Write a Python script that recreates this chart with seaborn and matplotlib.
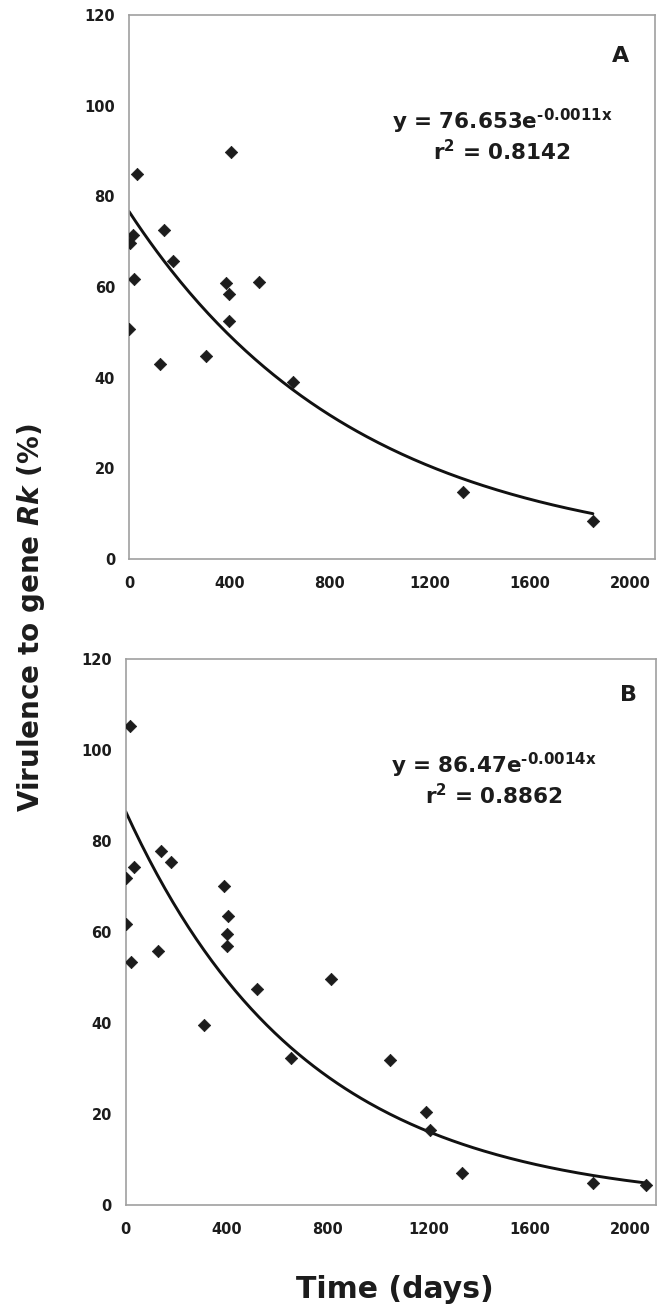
import numpy as np
import pandas as pd
import matplotlib.pyplot as plt
import seaborn as sns

# --- datos ---
# Panel A
days_a = [1, 3, 16, 18, 32, 125, 139, 177, 309, 387, 400, 399, 406, 520, 656, 1332, 1852]
vir_a = [50.7, 69.6, 71.5, 61.8, 84.9, 42.9, 72.6, 65.8, 44.7, 60.9, 58.5, 52.6, 89.8, 61.1, 39.1, 14.7, 8.4]
# Panel B
days_b = [16, 1, 32, 1, 20, 127, 140, 179, 310, 388, 407, 400, 400, 521, 656, 812,
          1047, 1190, 1206, 1331, 1852, 2061]
vir_b = [105.2, 71.9, 74.3, 61.7, 53.4, 55.9, 77.7, 75.4, 39.6, 70.0, 63.4, 59.5, 56.9, 47.5,
         32.2, 49.7, 31.8, 20.4, 16.5, 7.1, 4.9, 4.4]

# coeficientes de la tendencia exponencial (impresos en la figura)
coef_a, rate_a, r2_a = 76.653, -0.0011, 0.8142
coef_b, rate_b, r2_b = 86.47, -0.0014, 0.8862

x_ticks = [0, 400, 800, 1200, 1600, 2000]
y_ticks = [0, 20, 40, 60, 80, 100, 120]

sns.set_style("white")
plt.rcParams['font.family'] = ['DejaVu Sans']
plt.rcParams['font.weight'] = 'bold'
plt.rcParams['mathtext.fontset'] = 'custom'
plt.rcParams['mathtext.rm'] = 'DejaVu Sans:bold'
plt.rcParams['mathtext.bf'] = 'DejaVu Sans:bold'
plt.rcParams['mathtext.it'] = 'DejaVu Sans:italic:bold'
plt.rcParams['mathtext.default'] = 'bf'

ink = "#1c1c1c"

fig = plt.figure(figsize=(6.65, 13.14), dpi=100)
ax_a = fig.add_axes([0.194, 0.5746, 0.791, 0.414])
ax_b = fig.add_axes([0.189, 0.083, 0.797, 0.4155])


def panel(ax, days, vir, coef, rate, r2, letter, eq_x, let_x, let_y):
    df = pd.DataFrame({"days": days, "vir": vir})
    # curva de tendencia y = a*e^(b x)
    xs = np.linspace(0, max(days), 200)
    fit = pd.DataFrame({"days": xs, "vir": coef * np.exp(rate * xs)})
    sns.lineplot(data=fit, x="days", y="vir", ax=ax, color="#111111", linewidth=2.1)
    sns.scatterplot(data=df, x="days", y="vir", ax=ax, marker="D", s=40,
                    color=ink, edgecolor=ink, linewidth=0.5, zorder=3)
    ax.set_xlim(0, 2100)
    ax.set_ylim(0, 120)
    ax.set_xticks(x_ticks)
    ax.set_yticks(y_ticks)
    ax.set_xticklabels([str(t) for t in x_ticks], fontsize=10.5, fontweight='bold', color=ink)
    ax.set_yticklabels([str(t) for t in y_ticks], fontsize=10.5, fontweight='bold', color=ink)
    ax.set_xlabel("")
    ax.set_ylabel("")
    for s in ax.spines.values():
        s.set_color("#a0a0a0")
        s.set_linewidth(1.2)
    ax.tick_params(axis='both', direction='out', length=4, width=1, color="#a0a0a0", pad=6)
    ax.tick_params(axis='x', pad=8)
    # guion normal en el exponente, como en el original
    expo = ("%s" % rate).replace("-", "\u2010") + "x"
    ax.text(eq_x, 96.6, "y = %se$^{%s}$" % (coef, expo), ha="center", va="center",
            fontsize=15.5, fontweight='bold', color=ink)
    ax.text(eq_x, 89.9, "r$^{2}$ = %.4f" % r2, ha="center", va="center",
            fontsize=15.5, fontweight='bold', color=ink)
    ax.text(let_x, let_y, letter, ha="center", va="center", fontsize=16,
            fontweight='bold', color=ink)


panel(ax_a, days_a, vir_a, coef_a, rate_a, r2_a, "A", 1490, 1963, 111)
panel(ax_b, days_b, vir_b, coef_b, rate_b, r2_b, "B", 1460, 1994, 112)

fig.text(0.046, 0.53, "Virulence to gene $\\mathit{Rk}$ (%)", rotation=90, ha="center",
         va="center", fontsize=20, fontweight='bold', color=ink)
fig.text(0.594, 0.019, "Time (days)", ha="center", va="center", fontsize=21.5,
         fontweight='bold', color=ink)

fig.savefig("out.png", dpi=100, facecolor="white")
